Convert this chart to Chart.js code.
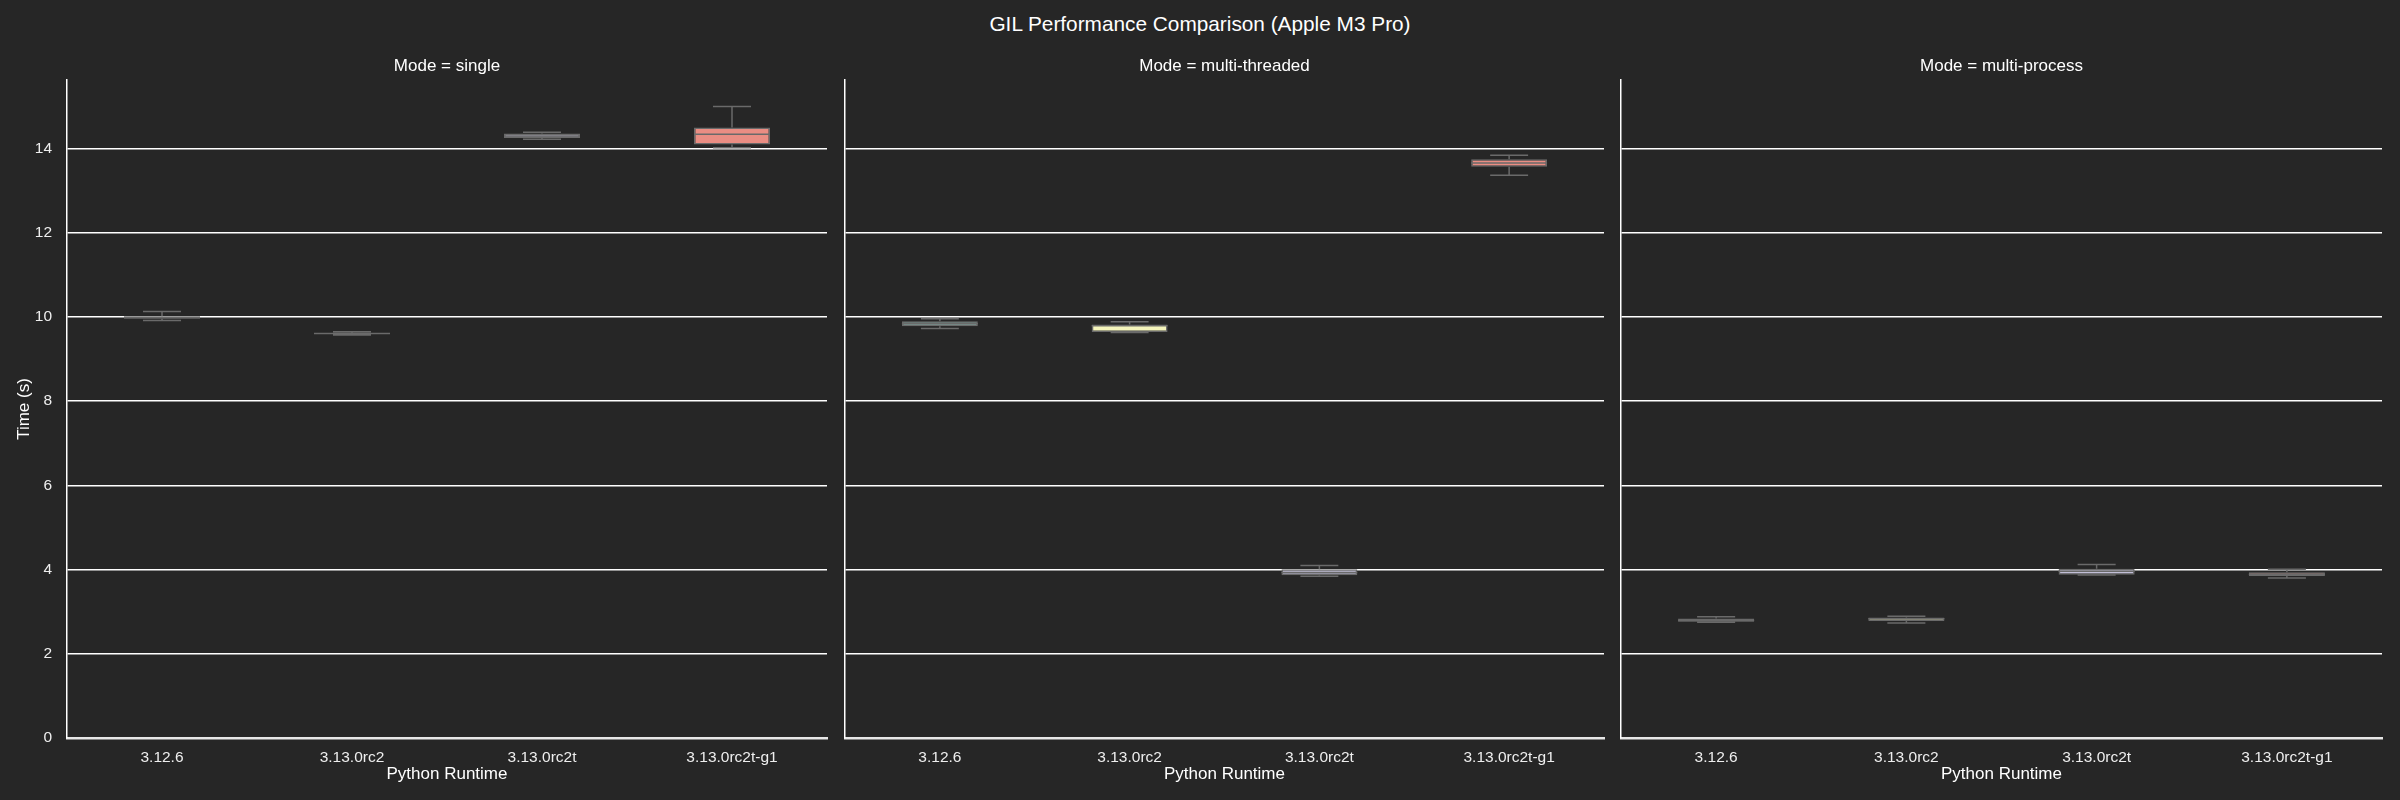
<!DOCTYPE html>
<html>
<head>
<meta charset="utf-8">
<script src="https://cdn.jsdelivr.net/npm/chart.js@4"></script>
<style>
  html, body { margin:0; padding:0; background:#262626; }
  body { width:2400px; height:800px; position:relative; overflow:hidden; }
  canvas { position:absolute; top:0; }
  #suptitle { position:absolute; left:0; width:2400px; top:12px; line-height:24px; text-align:center;
    color:#ffffff; font-family:"Liberation Sans", Arial, sans-serif; font-size:20.8px; }
</style>
</head>
<body>
<div id="suptitle">GIL Performance Comparison (Apple M3 Pro)</div>
<canvas id="c0" width="840" height="800" style="left:0px"></canvas>
<canvas id="c1" width="776" height="800" style="left:840px"></canvas>
<canvas id="c2" width="784" height="800" style="left:1616px"></canvas>
<script>
// ---- data ----
const runtimes = ['3.12.6', '3.13.0rc2', '3.13.0rc2t', '3.13.0rc2t-g1'];
const modes = ['single', 'multi-threaded', 'multi-process'];
const yTicksStep = 2;
const yMax = 15.63;

// Mode = single
const singleMin = [9.92, 9.57, 14.22, 14.02];
const singleQ1  = [9.96, 9.60, 14.25, 14.10];
const singleMed = [9.99, 9.61, 14.30, 14.34];
const singleQ3  = [10.02, 9.62, 14.36, 14.50];
const singleMax = [10.13, 9.65, 14.39, 15.00];

// Mode = multi-threaded
const threadMin = [9.73, 9.63, 3.84, 13.37];
const threadQ1  = [9.78, 9.645, 3.865, 13.57];
const threadMed = [9.84, 9.79, 3.93, 13.66];
const threadQ3  = [9.90, 9.825, 4.01, 13.75];
const threadMax = [9.96, 9.89, 4.095, 13.84];

// Mode = multi-process
const procMin = [2.75, 2.73, 3.87, 3.80];
const procQ1  = [2.76, 2.78, 3.88, 3.85];
const procMed = [2.79, 2.83, 3.96, 3.89];
const procQ3  = [2.84, 2.865, 4.02, 3.94];
const procMax = [2.88, 2.89, 4.12, 4.01];

const stats = [
  {min: singleMin, q1: singleQ1, med: singleMed, q3: singleQ3, max: singleMax},
  {min: threadMin, q1: threadQ1, med: threadMed, q3: threadQ3, max: threadMax},
  {min: procMin,   q1: procQ1,   med: procMed,   q3: procQ3,   max: procMax}
];

// ---- style ----
const FONT = '"Liberation Sans", Arial, sans-serif';
const boxColors = ['#96cac1', '#f5f5bc', '#c1bed6', '#ea8d83'];
const LINE = '#6a6a6a';
const LW = 1.5;

const boxWhiskers = {
  id: 'boxWhiskers',
  afterDatasetsDraw(chart, args, opts) {
    const ctx = chart.ctx;
    const ys = chart.scales.y;
    const meta = chart.getDatasetMeta(0);
    const s = opts.stats;
    ctx.save();
    ctx.strokeStyle = LINE;
    ctx.lineWidth = LW;
    ctx.lineCap = 'butt';
    meta.data.forEach((bar, i) => {
      const x = bar.x, w = bar.width;
      const yMinP = ys.getPixelForValue(s.min[i]);
      const yQ1P = ys.getPixelForValue(s.q1[i]);
      const yMedP = ys.getPixelForValue(s.med[i]);
      const yQ3P = ys.getPixelForValue(s.q3[i]);
      const yMaxP = ys.getPixelForValue(s.max[i]);
      ctx.beginPath();
      ctx.moveTo(x, yQ3P); ctx.lineTo(x, yMaxP);
      ctx.moveTo(x, yQ1P); ctx.lineTo(x, yMinP);
      ctx.moveTo(x - w / 4, yMaxP); ctx.lineTo(x + w / 4, yMaxP);
      ctx.moveTo(x - w / 4, yMinP); ctx.lineTo(x + w / 4, yMinP);
      ctx.moveTo(x - w / 2, yMedP); ctx.lineTo(x + w / 2, yMedP);
      ctx.stroke();
    });
    ctx.restore();
  }
};

const pads = [
  {top: 0, left: 0, right: 13, bottom: 0},
  {top: 0, left: 5, right: 12, bottom: 0},
  {top: 0, left: 5, right: 18, bottom: 0}
];

modes.forEach((mode, k) => {
  const st = stats[k];
  const first = k === 0;
  new Chart(document.getElementById('c' + k), {
    type: 'bar',
    data: {
      labels: runtimes,
      datasets: [{
        data: st.q1.map((v, i) => [v, st.q3[i]]),
        backgroundColor: boxColors,
        borderColor: LINE,
        borderWidth: LW,
        borderSkipped: false,
        barPercentage: 0.4,
        categoryPercentage: 1.0
      }]
    },
    options: {
      responsive: false,
      animation: false,
      devicePixelRatio: 1,
      layout: { padding: pads[k] },
      plugins: {
        legend: { display: false },
        tooltip: { enabled: false },
        title: {
          display: true,
          text: 'Mode = ' + mode,
          color: '#ffffff',
          fullSize: false,
          font: { family: FONT, size: 17, weight: 'normal' },
          padding: { top: 55.8, bottom: 3.8 }
        },
        boxWhiskers: { stats: st }
      },
      scales: {
        x: {
          type: 'category',
          offset: true,
          grid: { display: false, drawTicks: false },
          border: { display: true, color: '#e6e6e6', width: 2.5 },
          ticks: { color: '#eeeeee', font: { family: FONT, size: 15.5 }, padding: 10, maxRotation: 0 },
          title: { display: true, text: 'Python Runtime', color: '#ffffff',
                   font: { family: FONT, size: 17 }, padding: { top: 0, bottom: 15.3 } },
          afterFit(s) { s.height = 62; }
        },
        y: {
          min: 0,
          max: yMax,
          grid: { color: '#ffffff', lineWidth: 1.5, drawTicks: false },
          border: { display: true, color: '#ffffff', width: 1.5 },
          ticks: { display: first, stepSize: yTicksStep, includeBounds: false, color: '#eeeeee',
                   font: { family: FONT, size: 15.5 }, padding: 15 },
          title: { display: first, text: 'Time (s)', color: '#ffffff',
                   font: { family: FONT, size: 17 }, padding: { top: 14.3, bottom: 0 } },
          afterFit(s) { s.width = first ? 67 : 0; }
        }
      }
    },
    plugins: [boxWhiskers]
  });
});
</script>
</body>
</html>
